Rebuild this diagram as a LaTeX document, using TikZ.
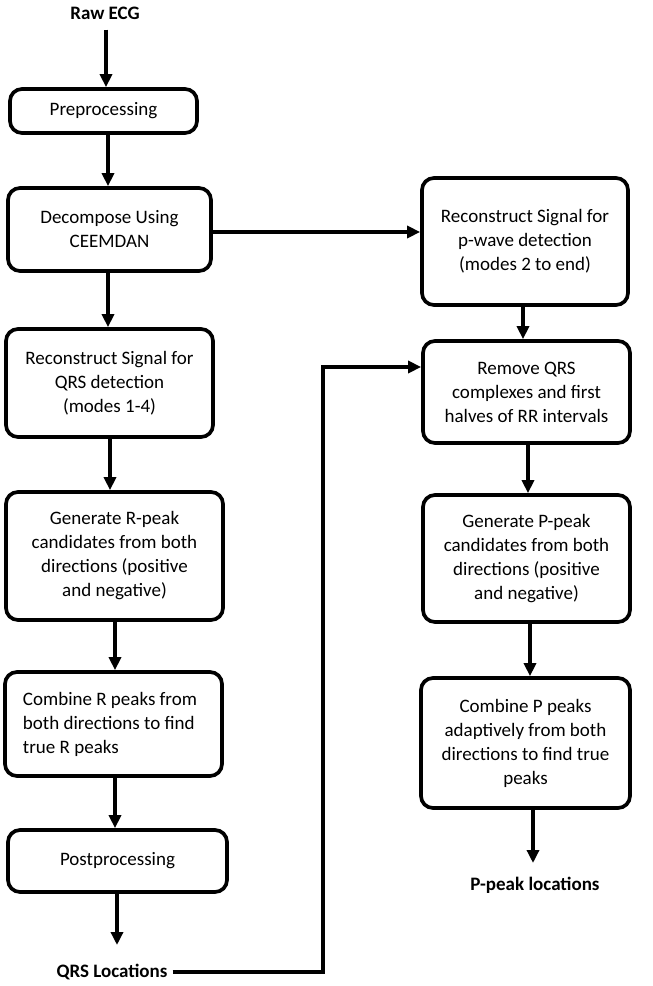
\documentclass[tikz,border=0pt]{standalone}
\usepackage{fontspec}
\setmainfont{Carlito}
\usetikzlibrary{arrows.meta}
\begin{document}
\begin{tikzpicture}[x=1pt,y=-1pt,
  box/.style={draw, line width=3.7pt, rounded corners=12pt, align=center, inner sep=0pt,
    font=\fontsize{19}{24}\selectfont},
  lbl/.style={font=\fontsize{19}{24}\selectfont\bfseries, inner sep=1pt},
  arr/.style={line width=3.3pt, -{Triangle[width=12pt,length=13pt]}},
  conn/.style={line width=3.3pt}]
\useasboundingbox (0,0) rectangle (653,986);
% left column
\node[lbl] (raw) at (105,13) {Raw ECG};
\node[box, minimum width=187pt, minimum height=44pt] (pre) at (103.5,111) {Preprocessing};
\node[box, minimum width=203pt, minimum height=83pt] (dec) at (109.5,229.5) {Decompose Using\\CEEMDAN};
\node[box, minimum width=207pt, minimum height=108pt] (l3) at (109.5,383) {Reconstruct Signal for\\QRS detection\\(modes 1-4)};
\node[box, minimum width=217pt, minimum height=128pt] (l4) at (114.5,556) {Generate R-peak\\candidates from both\\directions (positive\\and negative)};
\node[box, minimum width=217pt, minimum height=104pt, align=flush left, text width=181pt] (l5) at (113.5,724) {Combine R peaks from\\both directions to find\\true R peaks};
\node[box, minimum width=219pt, minimum height=62pt] (post) at (117.5,861) {Postprocessing};
\node[lbl] (qrs) at (112,972) {QRS Locations};
% right column
\node[box, minimum width=206pt, minimum height=127pt] (r1) at (525,241.5) {Reconstruct Signal for\\p-wave detection\\(modes 2 to end)};
\node[box, minimum width=207pt, minimum height=102pt] (r2) at (526.5,392) {Remove QRS\\complexes and first\\halves of RR intervals};
\node[box, minimum width=207pt, minimum height=127pt] (r3) at (526.5,558.5) {Generate P-peak\\candidates from both\\directions (positive\\and negative)};
\node[box, minimum width=209pt, minimum height=130pt] (r4) at (525.5,743) {Combine P peaks\\adaptively from both\\directions to find true\\peaks};
\node[lbl] (pp) at (535,885) {P-peak locations};
% arrows left
\draw[arr] ([xshift=1pt,yshift=-9pt]raw.south) -- ([xshift=1pt]raw.south |- pre.north);
\draw[arr] ([xshift=4.5pt]pre.south) -- ([xshift=4.5pt]pre.south |- dec.north);
\draw[arr] ([xshift=-1.5pt]dec.south) -- ([xshift=-1.5pt]dec.south |- l3.north);
\draw[arr] ([xshift=0.5pt]l3.south) -- ([xshift=0.5pt]l3.south |- l4.north);
\draw[arr] ([xshift=0.5pt]l4.south) -- ([xshift=0.5pt]l4.south |- l5.north);
\draw[arr] ([xshift=1.5pt]l5.south) -- ([xshift=1.5pt]l5.south |- post.north);
\coordinate (qend) at (117,945);
\draw[arr] (post.south -| qend) -- (qend);
% arrows right
\draw[arr] ([yshift=-2.5pt]dec.east) -- ([yshift=-2.5pt]dec.east -| r1.west);
\draw[arr] ([xshift=-2pt]r1.south) -- ([xshift=-2pt]r1.south |- r2.north);
\draw[arr] ([xshift=1.5pt]r2.south) -- ([xshift=1.5pt]r2.south |- r3.north);
\draw[arr] ([xshift=3.5pt]r3.south) -- ([xshift=3.5pt]r3.south |- r4.north);
\coordinate (pend) at (533,863);
\draw[arr] (r4.south -| pend) -- (pend);
% feedback
\coordinate (k1) at (323,972);
\coordinate (k2) at (323,367);
\draw[arr, line join=miter] ([xshift=4pt]qrs.east) -- (k1) -- (k2) -- (k2 -| r2.west);
\end{tikzpicture}
\end{document}
